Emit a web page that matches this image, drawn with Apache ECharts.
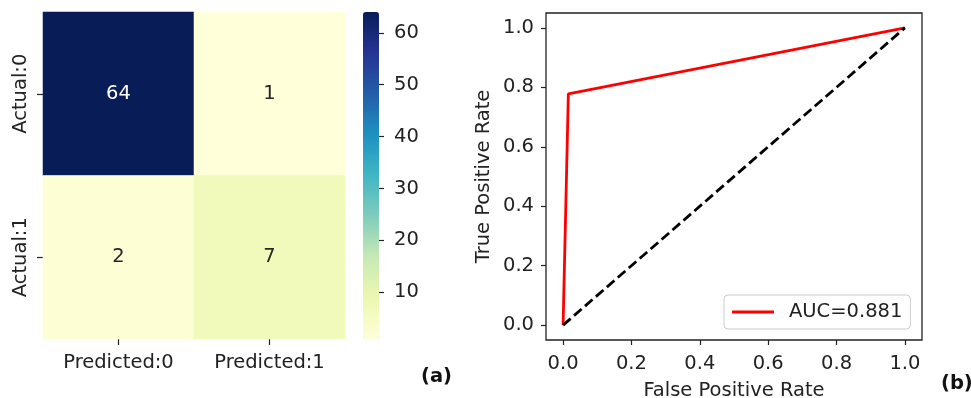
<!DOCTYPE html>
<html>
<head>
<meta charset="utf-8">
<script src="https://cdn.jsdelivr.net/npm/echarts@6/dist/echarts.min.js"></script>
<style>
  html, body { margin: 0; padding: 0; background: #fff; }
  #container { width: 971px; height: 398px; }
</style>
</head>
<body>
<div id="container"></div>
<script>
var dom = document.getElementById("container");
var myChart = echarts.init(dom);

// confusion matrix
var predictedLabels = ['Predicted:0', 'Predicted:1'];
var actualLabels = ['Actual:0', 'Actual:1'];
var matrix = [
    [64, 1],
    [2, 7]
];
var colorbarTicks = [10, 20, 30, 40, 50, 60];

// ROC curve
var rocFpr = [0, 0.0154, 1];
var rocTpr = [0, 0.778, 1];
var chanceLine = [[0, 0], [1, 1]];
var rateTicks = [0, 0.2, 0.4, 0.6, 0.8, 1.0];
var aucName = 'AUC=0.881';

var ylgnbu = ['#ffffd9', '#edf8b1', '#c7e9b4', '#7fcdbb', '#41b6c4',
              '#1d91c0', '#225ea8', '#253494', '#081d58'];
var textColor = '#222';
var font = 'DejaVu Sans';
var fs = 19.5;

var heatData = [];
for (var r = 0; r < matrix.length; r++) {
    for (var c = 0; c < matrix[r].length; c++) {
        heatData.push({
            value: [c, r, matrix[r][c]],
            label: { color: matrix[r][c] > 32 ? '#ffffff' : '#262626' }
        });
    }
}
var rocData = [];
for (var i = 0; i < rocFpr.length; i++) {
    rocData.push([rocFpr[i], rocTpr[i]]);
}

var tick1 = function (v) { return v.toFixed(1); };

option = {
    animation: false,
    textStyle: { fontFamily: font, color: textColor },
    title: [
        { text: '(a)', left: 421, top: 367, padding: 0,
          textStyle: { fontFamily: font, fontSize: fs, fontWeight: 'bold', color: '#111' } },
        { text: '(b)', left: 941, top: 374, padding: 0,
          textStyle: { fontFamily: font, fontSize: fs, fontWeight: 'bold', color: '#111' } }
    ],
    grid: [
        { left: 43, top: 12, width: 302, height: 327, outerBoundsMode: 'none' },
        { left: 363, top: 12, width: 16, height: 327, outerBoundsMode: 'none' },
        { left: 546, top: 13, width: 376, height: 327, show: true, outerBoundsMode: 'none',
          borderColor: '#222', borderWidth: 1.3, backgroundColor: 'transparent' }
    ],
    visualMap: {
        type: 'continuous',
        seriesIndex: 0,
        min: 1,
        max: 64,
        left: 363,
        top: 12,
        padding: 0,
        itemWidth: 16,
        itemHeight: 327,
        calculable: false,
        hoverLink: false,
        text: null,
        inRange: { color: ylgnbu }
    },
    legend: {
        data: [{ name: aucName, icon: 'rect' }],
        left: 724,
        top: 295,
        padding: [7, 8, 7, 8],
        itemWidth: 42,
        itemHeight: 3,
        borderColor: '#cccccc',
        borderWidth: 1,
        borderRadius: 4,
        backgroundColor: '#fff',
        textStyle: { fontFamily: font, fontSize: fs, color: textColor, padding: [0, 0, 0, 10] }
    },
    xAxis: [
        {
            gridIndex: 0, type: 'category', data: predictedLabels,
            axisLine: { show: false },
            axisTick: { show: true, alignWithLabel: true, length: 6, lineStyle: { color: textColor, width: 1.2 } },
            axisLabel: { fontSize: fs, color: textColor, margin: 14 },
            splitLine: { show: false }
        },
        { gridIndex: 1, type: 'value', show: false, min: 0, max: 1 },
        {
            gridIndex: 2, type: 'value', min: -0.05, max: 1.05,
            name: 'False Positive Rate', nameLocation: 'middle', nameGap: 41,
            nameTextStyle: { fontSize: fs, color: textColor },
            axisLine: { show: false, onZero: false },
            axisTick: { show: true, length: 5, customValues: rateTicks, lineStyle: { color: textColor, width: 1.2 } },
            axisLabel: { fontSize: fs, color: textColor, margin: 14, customValues: rateTicks, formatter: tick1 },
            splitLine: { show: false }
        }
    ],
    yAxis: [
        {
            gridIndex: 0, type: 'category', data: actualLabels, inverse: true,
            axisLine: { show: false },
            axisTick: { show: true, alignWithLabel: true, length: 6, lineStyle: { color: textColor, width: 1.2 } },
            axisLabel: { fontSize: fs, color: textColor, rotate: 90, margin: 12 },
            splitLine: { show: false }
        },
        {
            gridIndex: 1, type: 'value', min: 1, max: 64, position: 'right',
            axisLine: { show: false, onZero: false },
            axisTick: { show: true, length: 5, customValues: colorbarTicks, lineStyle: { color: textColor, width: 1.2 } },
            axisLabel: { fontSize: fs, color: textColor, margin: 15, customValues: colorbarTicks },
            splitLine: { show: false }
        },
        {
            gridIndex: 2, type: 'value', min: -0.05, max: 1.05,
            name: 'True Positive Rate', nameLocation: 'middle', nameGap: 52,
            nameTextStyle: { fontSize: fs, color: textColor },
            axisLine: { show: false, onZero: false },
            axisTick: { show: true, length: 5, customValues: rateTicks, lineStyle: { color: textColor, width: 1.2 } },
            axisLabel: { fontSize: fs, color: textColor, margin: 12, customValues: rateTicks, formatter: tick1 },
            splitLine: { show: false }
        }
    ],
    series: [
        {
            type: 'heatmap',
            xAxisIndex: 0,
            yAxisIndex: 0,
            data: heatData,
            label: { show: true, fontSize: fs, fontFamily: font,
                     formatter: function (p) { return p.value[2]; } },
            emphasis: { disabled: true }
        },
        {
            name: aucName,
            type: 'line',
            xAxisIndex: 2,
            yAxisIndex: 2,
            data: rocData,
            symbol: 'none',
            itemStyle: { color: '#ff0000' },
            lineStyle: { color: '#ff0000', width: 2.8 },
            z: 3
        },
        {
            name: 'chance',
            type: 'line',
            xAxisIndex: 2,
            yAxisIndex: 2,
            data: chanceLine,
            symbol: 'none',
            lineStyle: { color: '#000', width: 2.8, type: [10, 4.5] },
            z: 4
        }
    ]
};
if (option && typeof option === "object") {
    myChart.setOption(option, true);
}
</script>
</body>
</html>
